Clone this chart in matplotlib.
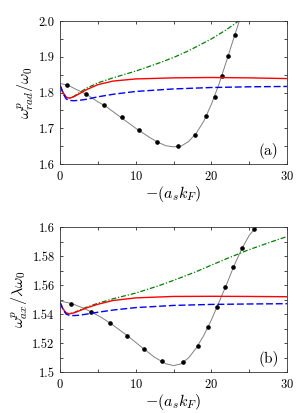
import matplotlib.pyplot as plt
import numpy as np
from matplotlib.ticker import MultipleLocator

plt.rcParams['font.family'] = 'serif'
plt.rcParams['font.serif'] = ['cmr10', 'DejaVu Serif']
plt.rcParams['mathtext.fontset'] = 'cm'
plt.rcParams['axes.formatter.use_mathtext'] = True

# panel (a): radial mode
a_dot_x = [0.97, 3.39, 5.8, 8.24, 10.4, 12.78, 15.6, 17.84, 19.34, 20.44, 21.37, 22.25, 23.17]
a_dot_y = [1.821, 1.796, 1.764, 1.731, 1.695, 1.661, 1.649, 1.682, 1.734, 1.788, 1.845, 1.903, 1.960]
a_fit_x = [0, 1, 2, 3.4, 5, 6, 8, 10, 12, 13, 14, 15, 16, 17, 18, 19, 20, 21, 22, 23, 23.7]
a_fit_y = [1.825, 1.821, 1.810, 1.796, 1.774, 1.762, 1.731, 1.700, 1.672, 1.660, 1.651, 1.648, 1.650, 1.663, 1.686, 1.720, 1.767, 1.823, 1.888, 1.955, 2.0]
a_red_x = [0, 0.4, 0.8, 1.2, 1.8, 2.5, 3.5, 5, 7, 10, 15, 20, 25, 30]
a_red_y = [1.820, 1.800, 1.787, 1.784, 1.788, 1.796, 1.808, 1.822, 1.832, 1.838, 1.841, 1.842, 1.841, 1.839]
a_blue_x = [0, 0.4, 0.8, 1.2, 1.8, 2.5, 3.5, 5, 7, 10, 15, 20, 25, 30]
a_blue_y = [1.820, 1.797, 1.782, 1.778, 1.777, 1.778, 1.781, 1.788, 1.795, 1.803, 1.810, 1.814, 1.816, 1.817]
a_green_x = [0, 0.4, 0.8, 1.2, 1.8, 2.5, 3.5, 5, 7, 10, 13, 15, 17, 20, 22, 23.6]
a_green_y = [1.820, 1.800, 1.787, 1.784, 1.789, 1.799, 1.812, 1.827, 1.841, 1.860, 1.882, 1.898, 1.917, 1.950, 1.976, 2.0]

# panel (b): axial mode
b_dot_x = [1.45, 4.1, 6.56, 8.9, 11.1, 13.48, 16.2, 18.24, 19.5, 20.7, 21.8, 22.86, 24.05, 25.6]
b_dot_y = [1.5473, 1.5416, 1.5340, 1.5252, 1.5159, 1.5074, 1.5069, 1.5180, 1.5310, 1.5446, 1.5584, 1.5725, 1.5859, 1.5986]
b_fit_x = [0, 1.5, 3, 4.1, 5.5, 7, 9, 11, 12.5, 14, 15, 16, 17, 18, 19, 20, 21, 22, 23, 24, 25, 25.9]
b_fit_y = [1.5490, 1.5474, 1.5443, 1.5416, 1.5376, 1.5324, 1.5247, 1.5163, 1.5102, 1.5057, 1.5045, 1.5057, 1.5099, 1.5166, 1.5253, 1.5360, 1.5481, 1.5604, 1.5734, 1.5849, 1.5943, 1.6]
b_red_x = [0, 0.4, 0.8, 1.2, 1.8, 2.5, 3.5, 5, 7, 10, 15, 20, 25, 30]
b_red_y = [1.548, 1.5435, 1.5408, 1.5402, 1.5408, 1.5422, 1.5443, 1.5468, 1.5494, 1.5512, 1.5522, 1.5523, 1.5522, 1.5520]
b_blue_x = [0, 0.4, 0.8, 1.2, 1.8, 2.5, 3.5, 5, 7, 10, 15, 20, 25, 30]
b_blue_y = [1.548, 1.5430, 1.5400, 1.5392, 1.5390, 1.5392, 1.5400, 1.5413, 1.5428, 1.5445, 1.5460, 1.5467, 1.5470, 1.5472]
b_green_x = [0, 0.4, 0.8, 1.2, 1.8, 2.5, 3.5, 5, 7, 10, 13, 15, 18, 20, 22, 25, 28, 30]
b_green_y = [1.548, 1.5435, 1.5408, 1.5402, 1.5410, 1.5425, 1.5448, 1.5475, 1.5506, 1.5545, 1.5595, 1.5633, 1.5693, 1.5738, 1.5782, 1.5845, 1.5900, 1.5935]

fig = plt.figure(figsize=(3.05, 4.13), dpi=100)
ax1 = fig.add_axes([0.197, 0.603, 0.744, 0.346])
ax2 = fig.add_axes([0.197, 0.099, 0.744, 0.351])

panels = [
    (ax1, a_fit_x, a_fit_y, a_dot_x, a_dot_y, a_red_x, a_red_y, a_blue_x, a_blue_y, a_green_x, a_green_y),
    (ax2, b_fit_x, b_fit_y, b_dot_x, b_dot_y, b_red_x, b_red_y, b_blue_x, b_blue_y, b_green_x, b_green_y),
]
for ax, fx, fy, dx, dy, rx, ry, bx, by, gx, gy in panels:
    ax.plot(fx, fy, color="gray", lw=0.7)
    ax.plot(dx, dy, "o", color="black", ms=2.3)
    ax.plot(gx, gy, color="green", lw=0.9, dashes=[4, 1.5, 1, 1.5])
    ax.plot(rx, ry, color="red", lw=1.0)
    ax.plot(bx, by, color="blue", lw=1.0, dashes=[5, 2])
    ax.set_xlim(0, 30)
    ax.xaxis.set_major_locator(MultipleLocator(10))
    ax.xaxis.set_minor_locator(MultipleLocator(5))
    ax.tick_params(which="both", direction="in", top=True, right=True, length=2.5, width=0.5, labelsize=9, pad=4)
    for s in ax.spines.values():
        s.set_linewidth(0.6)
        s.set_color("#333333")
    ax.set_xlabel(r"$-(a_sk_F)$", fontsize=11.5, labelpad=1)

ax1.set_ylim(1.6, 2.0)
ax1.yaxis.set_major_locator(MultipleLocator(0.1))
ax1.yaxis.set_minor_locator(MultipleLocator(0.05))
ax1.yaxis.set_major_formatter(plt.FuncFormatter(lambda v, p: f"{v:.1f}"))
ax1.set_ylabel(r"$\omega^p_{rad}/\omega_0$", fontsize=11.5, labelpad=2)
ax1.text(27.6, 1.625, "(a)", fontsize=11, ha="center")

ax2.set_ylim(1.5, 1.6)
ax2.yaxis.set_major_locator(MultipleLocator(0.02))
ax2.yaxis.set_minor_locator(MultipleLocator(0.01))
ax2.yaxis.set_major_formatter(plt.FuncFormatter(lambda v, p: f"{v:.2f}".rstrip("0").rstrip(".") if abs(v - round(v, 1)) < 1e-9 else f"{v:.2f}"))
ax2.set_ylabel(r"$\omega^p_{ax}/\lambda\omega_0$", fontsize=11.5, labelpad=2)
ax2.text(27.6, 1.506, "(b)", fontsize=11, ha="center")

fig.savefig("out.png", dpi=100)
